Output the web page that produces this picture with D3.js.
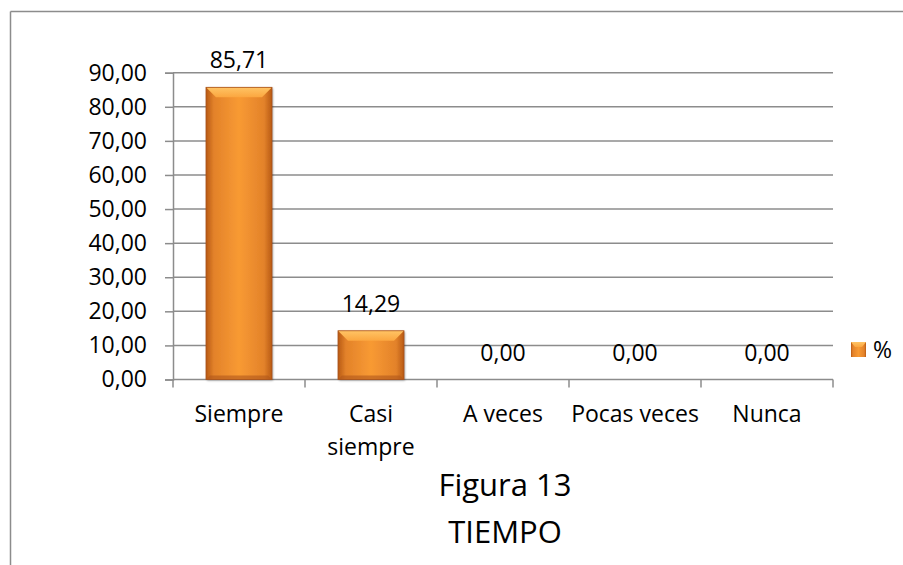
<!DOCTYPE html>
<html>
<head>
<meta charset="utf-8">
<script src="https://cdn.jsdelivr.net/npm/d3@7"></script>
<style>
  html, body { margin: 0; padding: 0; background: #fff; }
  svg { display: block; }
  text { font-family: "Open Sans", Lato, sans-serif; fill: #000; }
</style>
</head>
<body>
<svg id="chart" width="903" height="565"></svg>
<script>
// Survey responses, percentage per category
const categories = ["Siempre", "Casi siempre", "A veces", "Pocas veces", "Nunca"];
const values = [85.71, 14.29, 0.00, 0.00, 0.00];
const yTicks = [0, 10, 20, 30, 40, 50, 60, 70, 80, 90];
const seriesName = "%";
const titleLines = ["Figura 13", "TIEMPO"];

const svg = d3.select("#chart");
const W = 903, H = 565;
const plot = { left: 173, right: 833, top: 72.7, bottom: 379.5 };
const FONT = 23;

const fmt = v => d3.format(".2f")(v).replace(".", ",");

// gradients for the bevelled orange bars
const defs = svg.append("defs");
const gBody = defs.append("linearGradient").attr("id", "barBody")
  .attr("x1", "0").attr("x2", "1").attr("y1", "0").attr("y2", "0");
[[0, "#b85a14"], [0.12, "#e3822a"], [0.5, "#f89a33"], [0.88, "#e3822a"], [1, "#b85a14"]]
  .forEach(([o, c]) => gBody.append("stop").attr("offset", o).attr("stop-color", c));
const gTop = defs.append("linearGradient").attr("id", "barTop")
  .attr("x1", "0").attr("x2", "0").attr("y1", "0").attr("y2", "1");
[[0, "#ffc465"], [1, "#fba63f"]]
  .forEach(([o, c]) => gTop.append("stop").attr("offset", o).attr("stop-color", c));
const shadow = defs.append("filter").attr("id", "shadow")
  .attr("x", "-20%").attr("y", "-20%").attr("width", "140%").attr("height", "140%");
shadow.append("feDropShadow").attr("dx", 1).attr("dy", 1).attr("stdDeviation", 1.2)
  .attr("flood-color", "#000").attr("flood-opacity", 0.35);

// frame (top and left edges visible)
svg.append("line").attr("x1", 10.5).attr("x2", W).attr("y1", 11.5).attr("y2", 11.5)
  .attr("stroke", "#8c8c8c").attr("stroke-width", 1.5);
svg.append("line").attr("x1", 10.5).attr("x2", 10.5).attr("y1", 11.5).attr("y2", H)
  .attr("stroke", "#8c8c8c").attr("stroke-width", 1.5);

const x = d3.scaleBand().domain(categories).range([plot.left, plot.right]);
const y = d3.scaleLinear().domain([0, 90]).range([plot.bottom, plot.top]);

// horizontal gridlines
svg.append("g").selectAll("line").data(yTicks.filter(d => d > 0)).join("line")
  .attr("x1", plot.left).attr("x2", plot.right)
  .attr("y1", d => y(d)).attr("y2", d => y(d))
  .attr("stroke", "#8c8c8c").attr("stroke-width", 1.5);

// y axis
const yAxis = svg.append("g").attr("transform", `translate(${plot.left},0)`)
  .call(d3.axisLeft(y).tickValues(yTicks).tickFormat(fmt).tickSize(8).tickPadding(18));
yAxis.select(".domain").attr("stroke", "#8c8c8c").attr("stroke-width", 1.5);
yAxis.selectAll(".tick line").attr("stroke", "#8c8c8c").attr("stroke-width", 1.5);
yAxis.selectAll(".tick text").attr("font-size", FONT).attr("font-family", "Open Sans")
  .attr("fill", "#000");

// x axis with ticks at band boundaries
const xAxisG = svg.append("g").attr("transform", `translate(0,${plot.bottom})`);
xAxisG.append("line").attr("x1", plot.left).attr("x2", plot.right)
  .attr("stroke", "#8c8c8c").attr("stroke-width", 1.5);
const bounds = categories.map(c => x(c)).concat([plot.right]);
xAxisG.selectAll("line.tk").data(bounds).join("line").attr("class", "tk")
  .attr("x1", d => d).attr("x2", d => d).attr("y1", 0).attr("y2", 8)
  .attr("stroke", "#8c8c8c").attr("stroke-width", 1.5);

// category labels (wrapped onto two lines where needed)
const wrapMap = { "Casi siempre": ["Casi", "siempre"] };
const catLabels = svg.append("g").selectAll("text").data(categories).join("text")
  .attr("x", d => x(d) + x.bandwidth() / 2)
  .attr("y", 422)
  .attr("text-anchor", "middle")
  .attr("font-size", FONT);
catLabels.each(function(d) {
  const lines = wrapMap[d] || [d];
  d3.select(this).selectAll("tspan").data(lines).join("tspan")
    .attr("x", x(d) + x.bandwidth() / 2)
    .attr("dy", (l, i) => i === 0 ? 0 : 33)
    .text(l => l);
});

// bars
const bw = x.bandwidth() / 2;
const bars = svg.append("g").selectAll("g").data(categories.map((c, i) => ({ c, v: values[i] })))
  .join("g").filter(d => d.v > 0);
bars.each(function(d) {
  const g = d3.select(this);
  const x0 = x(d.c) + (x.bandwidth() - bw) / 2;
  const y0 = y(d.v), y1 = y(0);
  const h = y1 - y0;
  const bev = Math.min(10, h / 3);
  g.append("rect").attr("x", x0).attr("y", y0).attr("width", bw).attr("height", h)
    .attr("fill", "url(#barBody)").attr("filter", "url(#shadow)");
  // top bevel
  g.append("path")
    .attr("d", `M${x0},${y0} L${x0 + bw},${y0} L${x0 + bw - bev},${y0 + bev} L${x0 + bev},${y0 + bev} Z`)
    .attr("fill", "url(#barTop)");
  // bottom bevel (darker)
  g.append("path")
    .attr("d", `M${x0},${y1} L${x0 + bw},${y1} L${x0 + bw - 4},${y1 - 4} L${x0 + 4},${y1 - 4} Z`)
    .attr("fill", "#b0561a").attr("opacity", 0.6);
  g.append("rect").attr("x", x0).attr("y", y0).attr("width", bw).attr("height", h)
    .attr("fill", "none").attr("stroke", "#a9521a").attr("stroke-width", 0.8);
});

// value labels
svg.append("g").selectAll("text").data(categories.map((c, i) => ({ c, v: values[i] })))
  .join("text")
  .attr("x", d => x(d.c) + x.bandwidth() / 2)
  .attr("y", d => y(d.v) - 19)
  .attr("text-anchor", "middle")
  .attr("font-size", FONT)
  .text(d => fmt(d.v));

// legend
const lg = svg.append("g").attr("transform", "translate(851,342)");
lg.append("rect").attr("width", 15).attr("height", 15).attr("fill", "url(#barBody)");
lg.append("path").attr("d", "M0,0 L15,0 L11,5 L4,5 Z").attr("fill", "url(#barTop)");
lg.append("text").attr("x", 22).attr("y", 16).attr("font-size", FONT).text(seriesName);

// title
svg.append("g").selectAll("text").data(titleLines).join("text")
  .attr("x", 505).attr("y", (d, i) => 496 + i * 47)
  .attr("text-anchor", "middle").attr("font-size", 31)
  .text(d => d);
</script>
</body>
</html>
